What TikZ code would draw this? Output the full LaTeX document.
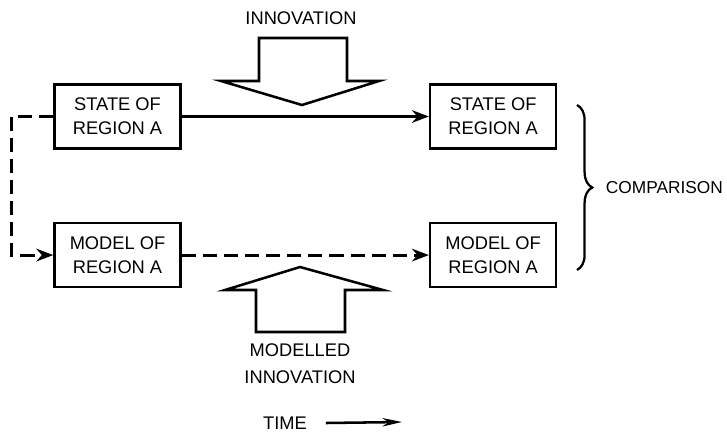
\documentclass[tikz,border=0pt]{standalone}
\usepackage{fontspec}
\setmainfont{Liberation Sans}
\usetikzlibrary{arrows.meta,positioning,decorations.pathreplacing}

\begin{document}
\begin{tikzpicture}[x=0.025cm, y=-0.025cm, node distance=18mm and 61.75mm, box/.style={draw,line width=1.8pt,align=center,minimum width=3.15cm,minimum height=1.6cm,inner sep=2pt,font=\fontsize{13}{17}\selectfont}, lab/.style={align=center,font=\fontsize{13}{19}\selectfont}, conn/.style={line width=1.8pt,-{Stealth[length=12pt,width=9pt]}}, bigarrow/.style={draw,line width=1.8pt,line join=miter}, dashline/.style={dash pattern=on 10pt off 5pt,line width=2.2pt}]
\useasboundingbox (0,0) rectangle (727,434);
\node[box] (S1) at (117.5,116.5) {STATE OF\\ REGION A};
\node[box,right=of S1] (S2) {STATE OF\\ REGION A};
\node[box,below=of S1] (M1) {MODEL OF\\ REGION A};
\node[box,right=of M1] (M2) {MODEL OF\\ REGION A};
\draw[conn] (S1) -- (S2);
\draw[conn,dashline] (M1) -- (M2);
\draw[conn,dashline] (S1.west) -- ++(-42,0) |- (M1.west);
% block arrows
\draw[bigarrow] (259,38) -- (347,38) -- (347,81) -- (379,81) -- (302,105) -- (221,81) -- (259,81) -- cycle;
\draw[bigarrow] (256,332) -- (345,332) -- (345,290) -- (383,290) -- (300,267) -- (225,290) -- (256,290) -- cycle;
\node[lab] (inno) at (301,18) {INNOVATION};
\node[lab] (minno) at (300,364) {MODELLED\\ INNOVATION};
% comparison brace
\coordinate (bt) at (577,105);
\coordinate (bb) at (577,270);
\draw[line width=1.6pt,decorate,decoration={brace,amplitude=0.38cm}] (bt) -- (bb);
\node[lab,anchor=west,font=\fontsize{12.3}{15}\selectfont] (comp) at (601,188) {COMPARISON};
\node[lab] (time) at (285,423) {TIME};
\coordinate (tend) at (402,422);
\draw[line width=1.8pt,-{Stealth[length=14pt,width=6pt]}] ([xshift=0.35cm]time.east) -- (tend);
\end{tikzpicture}
\end{document}
